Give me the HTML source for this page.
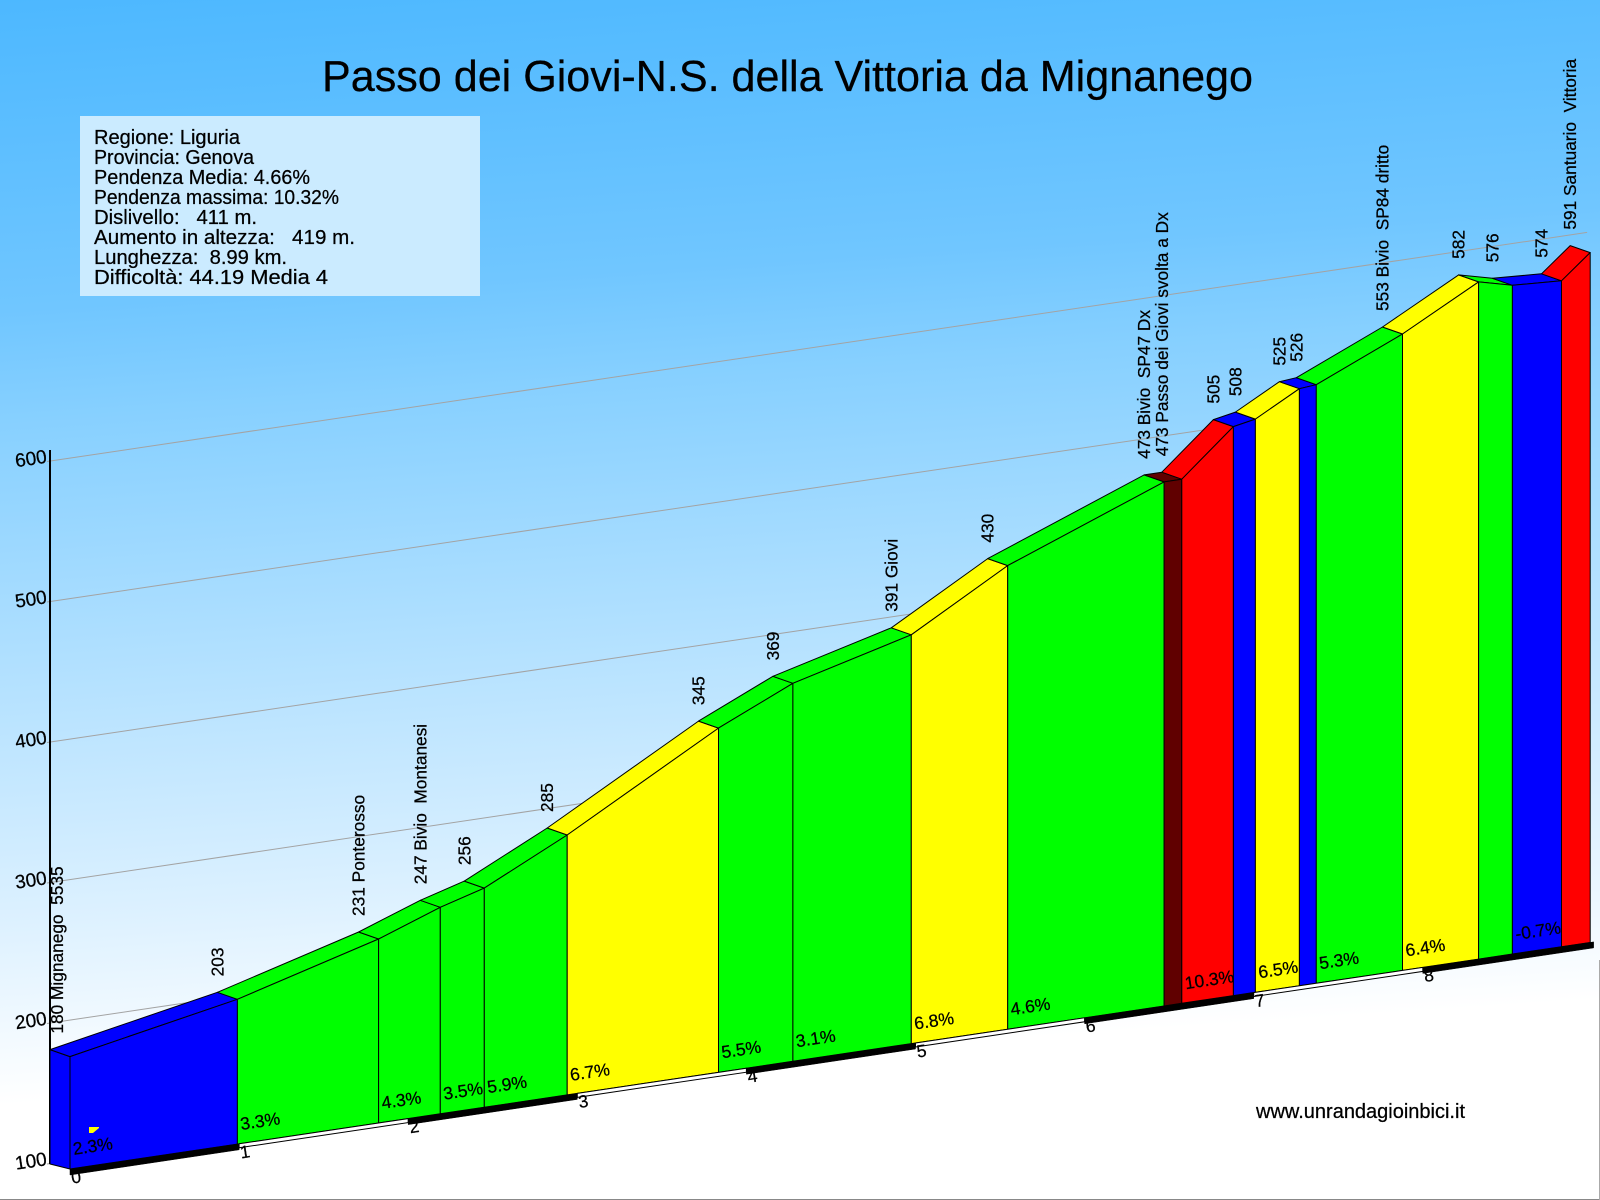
<!DOCTYPE html>
<html lang="it">
<head>
<meta charset="utf-8">
<title>Passo dei Giovi-N.S. della Vittoria da Mignanego</title>
<style>
html,body{margin:0;padding:0;background:#fff;}
svg{display:block;}
text{font-family:"Liberation Sans",sans-serif;fill:#000;white-space:pre;stroke:#000;stroke-width:0.25px;}
</style>
</head>
<body>
<svg id="chart" xmlns="http://www.w3.org/2000/svg" width="1600" height="1200" viewBox="0 0 1600 1200">
<defs>
<linearGradient id="sky" gradientUnits="userSpaceOnUse" x1="0" y1="0" x2="79" y2="1200">
<stop offset="0" stop-color="#4db8ff"/>
<stop offset="0.258" stop-color="#70c6ff"/>
<stop offset="0.35" stop-color="#87d0ff"/>
<stop offset="0.767" stop-color="#ddf1ff"/>
<stop offset="0.917" stop-color="#ffffff"/>
</linearGradient>
</defs>
<rect x="0" y="0" width="1600" height="1200" fill="url(#sky)"/>
<line x1="0" y1="1199.5" x2="1600" y2="1199.5" stroke="#888" stroke-width="1"/>
<line x1="1599.5" y1="960" x2="1599.5" y2="1200" stroke="#aaa" stroke-width="1"/>
<text x="322" y="91" font-size="44" textLength="931" lengthAdjust="spacingAndGlyphs">Passo dei Giovi-N.S. della Vittoria da Mignanego</text>
<g>
<rect x="80" y="116" width="400" height="180" fill="#cbebff"/>
<text x="94" y="144" font-size="20" textLength="146" lengthAdjust="spacingAndGlyphs">Regione: Liguria</text>
<text x="94" y="164" font-size="20" textLength="160" lengthAdjust="spacingAndGlyphs">Provincia: Genova</text>
<text x="94" y="184" font-size="20" textLength="216" lengthAdjust="spacingAndGlyphs">Pendenza Media: 4.66%</text>
<text x="94" y="204" font-size="20" textLength="245" lengthAdjust="spacingAndGlyphs">Pendenza massima: 10.32%</text>
<text x="94" y="224" font-size="20" textLength="163" lengthAdjust="spacingAndGlyphs">Dislivello:   411 m.</text>
<text x="94" y="244" font-size="20" textLength="261" lengthAdjust="spacingAndGlyphs">Aumento in altezza:   419 m.</text>
<text x="94" y="264" font-size="20" textLength="193" lengthAdjust="spacingAndGlyphs">Lunghezza:  8.99 km.</text>
<text x="94" y="284" font-size="20" textLength="234" lengthAdjust="spacingAndGlyphs">Difficoltà: 44.19 Media 4</text>
</g>
<text x="1256" y="1118" font-size="20" textLength="209" lengthAdjust="spacing">www.unrandagioinbici.it</text>
<g id="gridLayer"></g>
<g id="faceLayer"></g>
<g id="bandLayer"></g>
<polygon points="89,1127 99,1127 99,1128 93,1133 89,1133" fill="#ffff00"/>
<g id="labelLayer"></g>
</svg>
<script>
const kmMarks = [0, 0.99, 1.825, 2.19, 2.45, 2.94, 3.835, 4.275, 4.975, 5.545, 6.47, 6.575, 6.88, 7.01, 7.27, 7.37, 7.88, 8.33, 8.53, 8.82, 8.99];
const elevations = [180, 203, 231, 247, 256, 285, 345, 369, 391, 430, 473, 473, 505, 508, 525, 526, 553, 582, 576, 574, 591];
const placeNames = ['Mignanego  5535', '', 'Ponterosso', 'Bivio  Montanesi', '', '', '', '', 'Giovi', '', 'Bivio  SP47 Dx', 'Passo dei Giovi svolta a Dx', '', '', '', '', 'Bivio  SP84 dritto', '', '', '', 'Santuario  Vittoria'];
const segmentLevels = ['easy', 'moderate', 'moderate', 'moderate', 'moderate', 'hard', 'moderate', 'moderate', 'hard', 'moderate', 'extreme', 'severe', 'easy', 'hard', 'easy', 'moderate', 'hard', 'moderate', 'easy', 'severe'];
const gradeLabels = ['2.3%', '3.3%', '4.3%', '3.5%', '5.9%', '6.7%', '5.5%', '3.1%', '6.8%', '4.6%', '', '10.3%', '', '6.5%', '', '5.3%', '6.4%', '', '-0.7%', ''];
const yTicks = [100, 200, 300, 400, 500, 600];
const kmTicks = [0, 1, 2, 3, 4, 5, 6, 7, 8];
const levelColors = {easy: '#0000ff', moderate: '#00ff00', hard: '#ffff00', severe: '#ff0000', extreme: '#600000'};

const NS = 'http://www.w3.org/2000/svg';
const KM_PX = 169.1, KM_RISE = 25.2, M_PX = 1.405;
const FRONT_X = 70, FRONT_Y = 1169, DEPTH_X = -20, DEPTH_Y = -7, BASE_ELEV = 100;
const TILT = -8.5;
const END_KM = 8.99;

function xAt(km) { return FRONT_X + KM_PX * km; }
function baseAt(km) { return FRONT_Y - KM_RISE * km; }
function yAt(km, elev) { return baseAt(km) - (elev - BASE_ELEV) * M_PX; }
function gridX(km) { return xAt(km) + DEPTH_X; }
function gridY(km, elev) { return yAt(km, elev) + DEPTH_Y + 2; }
function pts(list) { return list.map(function (p) { return p[0].toFixed(1) + ',' + p[1].toFixed(1); }).join(' '); }
function make(tag, parent, attrs) {
  const el = document.createElementNS(NS, tag);
  Object.keys(attrs).forEach(function (k) { el.setAttribute(k, attrs[k]); });
  parent.appendChild(el);
  return el;
}

const gridLayer = document.getElementById('gridLayer');
const faceLayer = document.getElementById('faceLayer');
const bandLayer = document.getElementById('bandLayer');
const labelLayer = document.getElementById('labelLayer');

yTicks.forEach(function (tick) {
  const line = make('line', gridLayer, {x1: 47, y1: gridY(0, tick), x2: gridX(9.09), y2: gridY(9.09, tick), stroke: '#a3a3a3', 'stroke-width': 1});
  
  
  const tx = 31, ty = gridY(0, tick) - 2;
  const label = make('text', labelLayer, {x: tx, y: ty, 'font-size': 19, 'text-anchor': 'middle', 'dominant-baseline': 'central', transform: 'rotate(' + TILT + ' ' + tx + ' ' + ty + ')'});
  label.textContent = tick;
  
  
});

const axis = make('line', gridLayer, {x1: 50, y1: 450, x2: 50, y2: gridY(0, yTicks[0]), stroke: '#000', 'stroke-width': 2});



const sideFace = make('polygon', faceLayer, {
  points: pts([[xAt(0) + DEPTH_X, yAt(0, elevations[0]) + DEPTH_Y], [xAt(0), yAt(0, elevations[0])], [xAt(0), baseAt(0)], [xAt(0) + DEPTH_X, baseAt(0) - 5]]),
  fill: levelColors[segmentLevels[0]], stroke: '#000', 'stroke-width': 1, 'stroke-linejoin': 'round'
});



segmentLevels.forEach(function (level, i) {
  const k0 = kmMarks[i], k1 = kmMarks[i + 1], e0 = elevations[i], e1 = elevations[i + 1];
  const color = levelColors[level];
  const top = make('polygon', faceLayer, {
    points: pts([[xAt(k0) + DEPTH_X, yAt(k0, e0) + DEPTH_Y], [xAt(k1) + DEPTH_X, yAt(k1, e1) + DEPTH_Y], [xAt(k1), yAt(k1, e1)], [xAt(k0), yAt(k0, e0)]]),
    fill: color, stroke: '#000', 'stroke-width': 1, 'stroke-linejoin': 'round'
  });
  
  
  const front = make('polygon', faceLayer, {
    points: pts([[xAt(k0), yAt(k0, e0)], [xAt(k1), yAt(k1, e1)], [xAt(k1), baseAt(k1)], [xAt(k0), baseAt(k0)]]),
    fill: color, stroke: '#000', 'stroke-width': 1, 'stroke-linejoin': 'round'
  });
  
  
});

kmTicks.forEach(function (km) {
  const k1 = km === kmTicks[kmTicks.length - 1] ? END_KM + 0.02 : km + 1;
  const dark = km % 2 === 0;
  const h = dark ? 6 : 4;
  const seg = make('polygon', bandLayer, {
    points: pts([[xAt(km), baseAt(km)], [xAt(k1), baseAt(k1)], [xAt(k1), baseAt(k1) + h], [xAt(km), baseAt(km) + h]]),
    fill: dark ? '#000' : '#fff', stroke: '#000', 'stroke-width': dark ? 0.5 : 1
  });
  
  
});

kmTicks.forEach(function (km) {
  const tx = xAt(km) + 6, ty = baseAt(km) + 8;
  const label = make('text', labelLayer, {x: tx, y: ty, 'font-size': 17.5, 'text-anchor': 'middle', 'dominant-baseline': 'central', transform: 'rotate(' + TILT + ' ' + tx + ' ' + ty + ')'});
  label.textContent = km;
  
  
});

gradeLabels.forEach(function (txt, i) {
  if (!txt) return;
  const tx = xAt(kmMarks[i]) + 3, ty = baseAt(kmMarks[i]) - 20;
  const label = make('text', labelLayer, {x: tx, y: ty, 'font-size': 17.5, 'dominant-baseline': 'central', transform: 'rotate(' + TILT + ' ' + tx + ' ' + ty + ')'});
  label.textContent = txt;
  
  
});

elevations.forEach(function (elev, i) {
  const tx = Math.max(xAt(kmMarks[i]) + DEPTH_X, 57);
  const ty = yAt(kmMarks[i], elev) + DEPTH_Y - 16;
  const label = make('text', labelLayer, {x: tx, y: ty, 'font-size': 17.3, 'dominant-baseline': 'central', transform: 'rotate(-90 ' + tx + ' ' + ty + ')'});
  label.textContent = placeNames[i] ? elev + ' ' + placeNames[i] : String(elev);
  
  
});
</script>
</body>
</html>
